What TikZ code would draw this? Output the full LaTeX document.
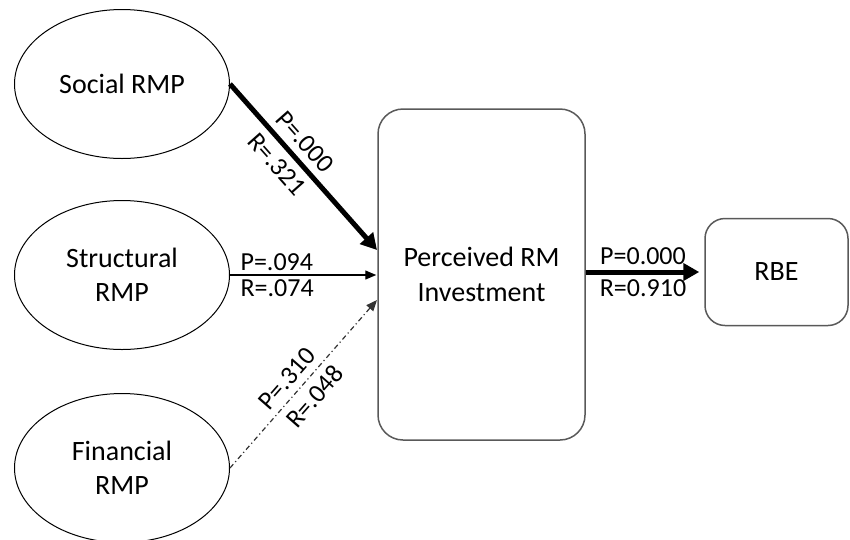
\documentclass[tikz,border=0pt]{standalone}
\usepackage{fontspec}
\setmainfont{Carlito}
\usetikzlibrary{shapes.geometric,arrows.meta}
\begin{document}
\begin{tikzpicture}[x=1pt,y=-1pt,
 rmp/.style={ellipse,draw,line width=1pt,minimum width=215pt,minimum height=149pt,align=center,font=\fontsize{28}{34}\selectfont,inner sep=0pt},
 box/.style={draw=black!65,line width=1.5pt,rounded corners=25pt,align=center,font=\fontsize{28}{35}\selectfont},
 lab/.style={font=\fontsize{26}{30}\selectfont,inner sep=4pt,text=black},
 slab/.style={lab,sloped,inner sep=7pt},
 thickarr/.style={line width=5pt,-{Triangle[length=16pt,width=17pt]}},
 thinarr/.style={line width=1.2pt,-{Triangle[length=11pt,width=9pt]}},
 dotdash/.style={line width=1.2pt,black!80,dash pattern=on 5pt off 3pt on 1.2pt off 3pt,-{Triangle[length=11pt,width=9pt]}}
]
\useasboundingbox (0,0) rectangle (850,539);
\node[rmp] (soc) at (122,84) {Social RMP};
\node[rmp] (str) at (122,275) {Structural\\RMP};
\node[rmp] (fin) at (122,468) {Financial\\RMP};
\node[box, minimum width=207pt, minimum height=331pt] (rm) at (481.5,274.5) {Perceived RM\\Investment};
\node[box, rounded corners=20pt, minimum width=143pt, minimum height=107pt] (rbe) at (776.5,272) {RBE};
\coordinate (e1) at (377,250);
\coordinate (e3) at (377,300);
\draw[thickarr] (soc.east) -- (e1)
  node[slab,pos=0.42,above]{P=.000}
  node[slab,pos=0.41,below]{R=.321};
\draw[thinarr,shorten >=1pt] (str.east) -- (rm.west |- str.east)
  node[lab,pos=0,above right,xshift=6pt]{P=.094}
  node[lab,pos=0,below right,xshift=6pt]{R=.074};
\draw[dotdash] (fin.east) -- (e3)
  node[slab,pos=0.47,above]{P=.310}
  node[slab,pos=0.49,below]{R=.048};
\draw[thickarr,shorten >=5pt] (rbe.west -| rm.east) -- (rbe.west)
  node[lab,midway,above,xshift=-2pt,inner sep=5pt]{P=0.000}
  node[lab,midway,below,xshift=-2pt,inner sep=5pt]{R=0.910};
\end{tikzpicture}
\end{document}
